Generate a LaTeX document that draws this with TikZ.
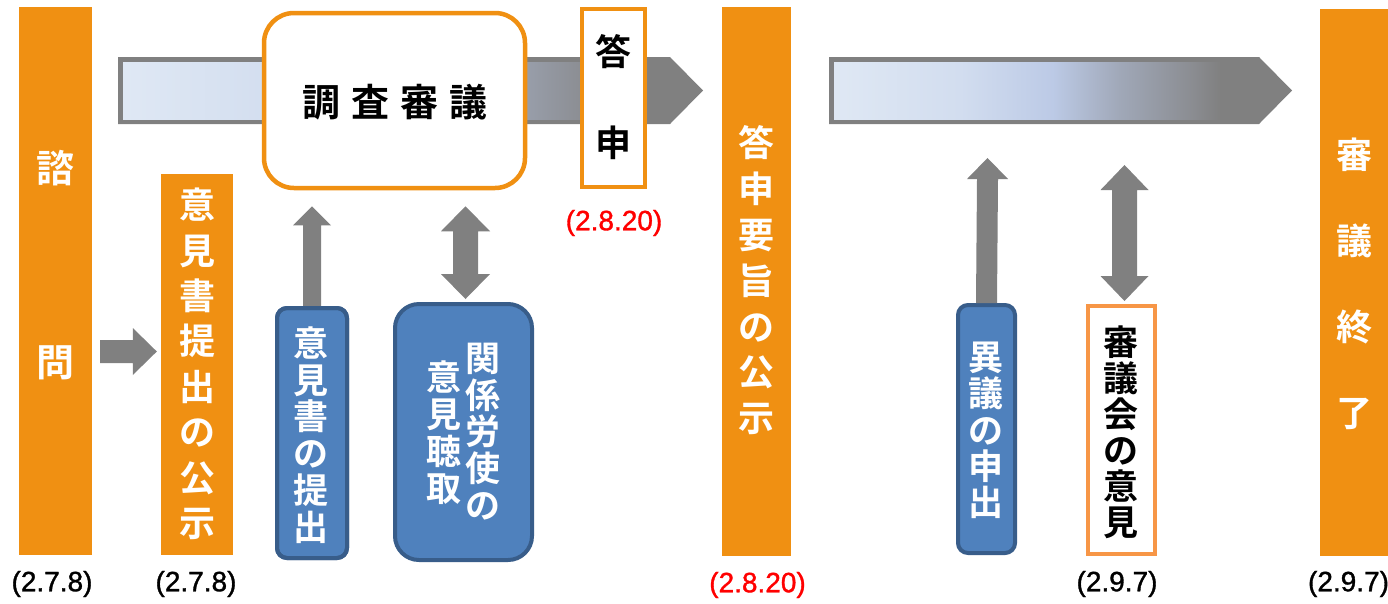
\documentclass[tikz,border=0pt]{standalone}
\usepackage{fontspec}
\setmainfont{Liberation Sans}
\newfontfamily\labf{Liberation Sans}[FakeBold=1.2]
\newfontfamily\jp{Noto Sans CJK JP Bold}
\usetikzlibrary{calc}
\definecolor{orng}{RGB}{240,144,18}
\definecolor{lorng}{RGB}{247,150,70}
\definecolor{bfill}{RGB}{79,129,189}
\definecolor{bdraw}{RGB}{56,93,138}
\definecolor{agray}{RGB}{128,128,128}
\definecolor{g0}{RGB}{223,232,244}
\definecolor{g1}{RGB}{210,221,239}
\definecolor{g2}{RGB}{188,202,230}
\definecolor{g3}{RGB}{160,168,184}
\definecolor{g4}{RGB}{139,141,146}
\definecolor{g5}{RGB}{128,128,128}
\pgfdeclarehorizontalshading{arrgrad}{100bp}{color(0bp)=(g0); color(25bp)=(g0); color(40bp)=(g1); color(51bp)=(g2); color(59bp)=(g3); color(67.5bp)=(g4); color(71bp)=(g5); color(100bp)=(g5)}
\newcommand{\UpBlk}[5]{%
  \fill[agray] ($(#1)+(-#3,0)$) -- ($(#2)+(-#3,#5)$) -- ($(#2)+(-#4,#5)$) -- (#2)
    -- ($(#2)+(#4,#5)$) -- ($(#2)+(#3,#5)$) -- ($(#1)+(#3,0)$) -- cycle;}
\newcommand{\DblBlk}[5]{%
  \fill[agray] (#2) -- ($(#2)+(#4,#5)$) -- ($(#2)+(#3,#5)$) -- ($(#1)+(#3,-#5)$)
    -- ($(#1)+(#4,-#5)$) -- (#1) -- ($(#1)+(-#4,-#5)$) -- ($(#1)+(-#3,-#5)$)
    -- ($(#2)+(-#3,#5)$) -- ($(#2)+(-#4,#5)$) -- cycle;}
\tikzset{
  bar/.style={fill=orng, draw=none, inner sep=0pt},
  bluebox/.style={fill=bfill, draw=bdraw, line width=4pt, inner sep=0pt},
  obox/.style={fill=white, draw=orng, inner sep=0pt},
  vt/.style 2 args={align=center, inner sep=0pt, text=white, font=\jp\fontsize{#1}{#2}\selectfont},
  lab/.style={inner sep=0pt, font=\labf\fontsize{28}{30}\selectfont}
}
\begin{document}
\begin{tikzpicture}[x=1pt,y=-1pt]
\useasboundingbox[fill=white] (0,0) rectangle (1388,603);

% gradient arrows
\coordinate (a1) at (118,124);
\coordinate (a2) at (829,124);
\fill[agray] (118,57) -- (670,57) -- (703,90.5) -- (670,124) -- (a1) -- cycle;
\shade[shading=arrgrad] (123,62) rectangle (665,119);
\fill[agray] (829,57) -- (1259,57) -- (1292,90.5) -- (1259,124) -- (a2) -- cycle;
\shade[shading=arrgrad] (834,62) rectangle (1254,119);

% orange bars
\node[bar, minimum width=73pt, minimum height=548pt] (b1) at (55.5,281) {};
\node[bar, minimum width=72pt, minimum height=381pt] (b2) at (197,364.5) {};
\node[bar, minimum width=69pt, minimum height=549pt] (b3) at (756.5,281.5) {};
\node[bar, minimum width=72pt, minimum height=547pt] (b4) at (1356,282.5) {};

% boxes
\node[obox, line width=4.5pt, rounded corners=30pt, minimum width=261pt, minimum height=175pt] (cs) at (394.5,100.5) {};
\node[obox, line width=4pt, minimum width=63pt, minimum height=178pt] (ts) at (613.5,98) {};

% block arrow from 諮問 to 意見書提出の公示
\coordinate (hy) at (0,351.5);
\coordinate (h1) at ($(b1.east |- hy)+(8,0)$);
\coordinate (h2) at ($(b2.west |- hy)+(-4,0)$);
\fill[agray] ($(h1)+(0,-11.5)$) -- ($(h2)+(-24,-11.5)$) -- ($(h2)+(-24,-23.5)$) -- (h2)
  -- ($(h2)+(-24,23.5)$) -- ($(h2)+(-24,11.5)$) -- ($(h1)+(0,11.5)$) -- cycle;

\node[bluebox, rounded corners=10pt, minimum width=70pt, minimum height=250pt] (ieb) at (312,433) {};
\node[bluebox, rounded corners=24pt, minimum width=137pt, minimum height=256pt] (kr) at (463.5,432) {};
\node[bluebox, rounded corners=10pt, minimum width=57pt, minimum height=248pt] (ig) at (986.5,429) {};
\node[obox, draw=lorng, line width=4pt, minimum width=67pt, minimum height=248pt] (sk) at (1121.5,430) {};

\coordinate (u1b) at (ieb.north);
\coordinate (u1t) at ($(ieb.north |- cs.south)+(0,16)$);
\UpBlk{u1b}{u1t}{9}{19}{19}
\coordinate (d1b) at ($(kr.north)+(2,-3)$);
\coordinate (d1t) at ($(kr.north |- cs.south)+(2,16)$);
\DblBlk{d1b}{d1t}{12.5}{24.5}{25}
\coordinate (u2b) at (ig.north);
\coordinate (u2t) at ($(ig.north |- a2)+(1,34)$);
\UpBlk{u2b}{u2t}{10.5}{20.5}{21}
\coordinate (d2b) at ($(sk.north)+(3,-3)$);
\coordinate (d2t) at ($(sk.north |- a2)+(3,41)$);
\DblBlk{d2b}{d2t}{12.5}{24}{25}

% redraw box border over arrow end
\node[bluebox, fill=none, rounded corners=10pt, minimum width=70pt, minimum height=250pt] (iebf) at (ieb) {};

% texts
\node[vt={38}{46}] (t1a) at (55.5,168) {諮};
\node[vt={38}{46}] (t1b) at (55.5,363) {問};
\node[vt={36}{45.4}] (t2) at (197,364) {意\\見\\書\\提\\出\\の\\公\\示};
\node[vt={36}{45.8}] (t3) at (756.5,280.5) {答\\申\\要\\旨\\の\\公\\示};
\node[vt={36}{86}] (t4) at (1354,284) {審\\議\\終\\了};
\node[vt={38}{46}, text=black] (cst) at (395,102) {調\hspace{11pt}査\hspace{11pt}審\hspace{11pt}議};
\node[vt={36}{91}, text=black] (tst) at (613.5,97.5) {答\\申};
\node[vt={35}{36.8}] (iebt) at (311,435) {意\\見\\書\\の\\提\\出};
\node[vt={35}{36.75}] (krt1) at (483,431.5) {関\\係\\労\\使\\の};
\node[vt={35}{37}] (krt2) at (444,432.5) {意\\見\\聴\\取};
\node[vt={35}{36.25}] (igt) at (986,430.5) {異\\議\\の\\申\\出};
\node[vt={35}{36}, text=black] (skt) at (1121,432) {審\\議\\会\\の\\意\\見};

% dates
\node[lab] (l1) at (52,584) {(2.7.8)};
\node[lab] (l2) at (196,584) {(2.7.8)};
\node[lab, text=red] (l3) at (614,223) {(2.8.20)};
\node[lab, text=red] (l4) at (757.5,585) {(2.8.20)};
\node[lab] (l5) at (1117,584) {(2.9.7)};
\node[lab] (l6) at (1348.5,584) {(2.9.7)};
\end{tikzpicture}
\end{document}
